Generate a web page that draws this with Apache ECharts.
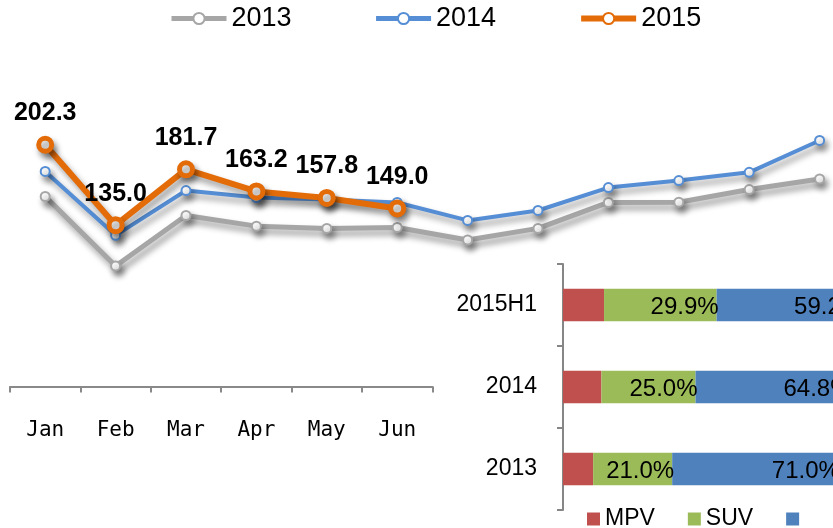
<!DOCTYPE html>
<html><head><meta charset="utf-8">
<script src="https://cdn.jsdelivr.net/npm/echarts@6/dist/echarts.min.js"></script>
<style>html,body{margin:0;padding:0;background:#fff}#c{width:833px;height:528px}</style>
</head><body><div id="c"></div>
<script>
const months = ['Jan','Feb','Mar','Apr','May','Jun','Jul','Aug','Sep','Oct','Nov','Dec'];
const sales2013 = [159.0, 100.9, 143.1, 134.2, 132.3, 133.1, 122.6, 132.3, 154.0, 154.2, 164.8, 173.7];
const sales2014 = [180.0, 126.5, 164.0, 158.1, 156.5, 154.0, 139.0, 147.3, 166.5, 172.3, 179.2, 205.9];
const sales2015 = [202.3, 135.0, 181.7, 163.2, 157.8, 149.0];
const shareCats = ['2013', '2014', '2015H1'];
const mpvShare = [8.0, 10.2, 10.9];
const suvShare = [21.0, 25.0, 29.9];
const sedanShare = [71.0, 64.8, 59.2];

const FONT = 'Liberation Sans, Arial, sans-serif';
const shadow = {shadowColor: 'rgba(0,0,0,0.4)', shadowBlur: 6, shadowOffsetX: 3, shadowOffsetY: 5};

function lineSeries(name, data, color, width, size, border, extra) {
  return Object.assign({
    name, type: 'line', data, xAxisIndex: 0, yAxisIndex: 0,
    color, symbol: 'circle', symbolSize: size,
    lineStyle: Object.assign({color, width}, shadow),
    itemStyle: Object.assign({color: '#fff', borderColor: color, borderWidth: border}, shadow),
    emphasis: {disabled: true}
  }, extra || {});
}

const chart = echarts.init(document.getElementById('c'));
chart.setOption({
  animation: false,
  backgroundColor: '#fff',
  textStyle: {fontFamily: FONT},
  legend: [{
    data: [
      {name: '2013', lineStyle: {width: 5}},
      {name: '2014', lineStyle: {width: 5}},
      {name: '2015', lineStyle: {width: 6}}
    ],
    left: 164, top: 0,
    itemWidth: 55, itemHeight: 14, itemGap: 82,
    textStyle: {fontSize: 27, color: '#000', fontFamily: FONT}
  }, {
    data: ['MPV', 'SUV', '轿车'],
    left: 582, top: 502,
    icon: 'rect', itemWidth: 13, itemHeight: 13, itemGap: 33,
    formatter: n => (n === '轿车' ? '' : n),
    textStyle: {fontSize: 23, color: '#000', fontFamily: FONT, lineHeight: 24}
  }],
  grid: [
    {left: 10, top: 28, width: 844.8, bottom: 141.5, outerBoundsMode: 'none'},
    {left: 10, top: 28, width: 422.4, bottom: 141.5, outerBoundsMode: 'none'},
    {left: 563, top: 264, width: 376.5, bottom: 18, outerBoundsMode: 'none'}
  ],
  xAxis: [
    {gridIndex: 0, type: 'category', data: months, show: false, boundaryGap: true},
    {gridIndex: 1, type: 'category', data: months.slice(0, 6), boundaryGap: true,
      axisLine: {show: true, lineStyle: {color: '#898989', width: 2}},
      axisTick: {show: true, length: 6, lineStyle: {color: '#898989', width: 2}},
      axisLabel: {margin: 34, fontFamily: 'DejaVu Sans Mono', fontSize: 21, color: '#000'}},
    {gridIndex: 2, type: 'value', min: 0, max: 100, show: false}
  ],
  yAxis: [
    {gridIndex: 0, type: 'value', min: 0, max: 300, show: false},
    {gridIndex: 1, type: 'value', min: 0, max: 300, show: false},
    {gridIndex: 2, type: 'category', data: shareCats,
      axisLine: {show: true, lineStyle: {color: '#868686', width: 2}},
      axisTick: {show: true, length: 6, lineStyle: {color: '#868686', width: 2}},
      axisLabel: {fontSize: 23, margin: 26, color: '#000', fontFamily: FONT},
      splitLine: {show: false}}
  ],
  series: [
    lineSeries('2013', sales2013, '#A6A6A6', 5, 9, 2),
    lineSeries('2014', sales2014, '#558ED5', 4, 9, 2),
    lineSeries('2015', sales2015, '#E36C09', 6, 13, 5, {
      label: {show: true, position: 'top', distance: 10, fontSize: 25, fontWeight: 'bold',
        color: '#000', fontFamily: FONT, formatter: p => p.value.toFixed(1)}
    }),
    {name: 'MPV', type: 'bar', stack: 'share', xAxisIndex: 2, yAxisIndex: 2, data: mpvShare,
      barWidth: 32.5, itemStyle: {color: '#C0504D'}, emphasis: {disabled: true}},
    {name: 'SUV', type: 'bar', stack: 'share', xAxisIndex: 2, yAxisIndex: 2, data: suvShare,
      barWidth: 32.5, itemStyle: {color: '#9BBB59'}, emphasis: {disabled: true},
      label: {show: true, position: 'insideRight', distance: -2, offset: [0, 2], fontSize: 24, color: '#000',
        fontFamily: FONT, formatter: p => p.value.toFixed(1) + '%'}},
    {name: '轿车', type: 'bar', stack: 'share', xAxisIndex: 2, yAxisIndex: 2, data: sedanShare,
      barWidth: 32.5, itemStyle: {color: '#4F81BD'}, emphasis: {disabled: true},
      label: {show: true, position: 'inside', offset: [0, 2], fontSize: 24, color: '#000',
        fontFamily: FONT, formatter: p => p.value.toFixed(1) + '%'}}
  ]
});
</script>
</body></html>
